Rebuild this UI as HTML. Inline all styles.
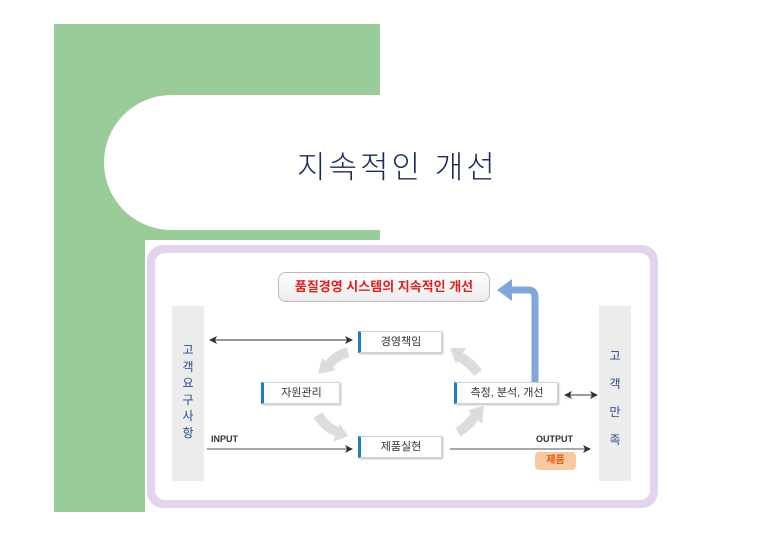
<!DOCTYPE html>
<html><head><meta charset="utf-8"><style>
body{margin:0;width:760px;height:537px;background:#fff;overflow:hidden;position:relative;font-family:"Liberation Sans","Noto Sans CJK KR",sans-serif}
.a{position:absolute}
.node{position:absolute;background:#fff;border:1px solid #c9d6dc;border-left:3px solid #1b7fc0;box-shadow:1px 1px 2px #bbb;font-size:11px;color:#333;text-align:center;line-height:20px;box-sizing:border-box;height:22px}
.bar{position:absolute;background:#ececec;width:32px;top:306px;height:175px;color:#2b4a8a;font-size:12px;text-align:center;box-sizing:border-box}
</style></head><body>
<div class="a" style="left:54px;top:24px;width:326px;height:216px;background:#99cc99"></div>
<div class="a" style="left:54px;top:240px;width:91px;height:272px;background:#99cc99"></div>
<div class="a" style="left:104px;top:95px;width:290px;height:135px;background:#fff;border-radius:68px 0 0 68px"></div>
<div class="a" style="left:297px;top:142px;font-size:31px;color:#1a2a5a;letter-spacing:3px;white-space:nowrap;font-weight:300">지속적인 개선</div>
<div class="a" style="left:145px;top:240px;width:515px;height:270px;background:#fff"></div>
<div class="a" style="left:147px;top:245px;width:511px;height:263px;background:#e3d4ee;border-radius:16px"></div>
<div class="a" style="left:155px;top:253px;width:495px;height:247px;background:#fff;border-radius:10px"></div>
<div class="a" style="left:278px;top:272px;width:212px;height:30px;border:1px solid #bbb;border-radius:8px;background:linear-gradient(#fff,#ececec);box-sizing:border-box;text-align:center;line-height:28px;font-size:13px;font-weight:bold;color:#e02020">품질경영 시스템의 지속적인 개선</div>
<div class="bar" style="left:172px;padding-top:36px;line-height:16.5px">고<br>객<br>요<br>구<br>사<br>항</div>
<div class="bar" style="left:599px;padding-top:36px;line-height:28px">고<br>객<br>만<br>족</div>
<svg class="a" style="left:0;top:0" width="760" height="537">
<defs><marker id="m" markerWidth="8" markerHeight="8" refX="7" refY="4" orient="auto"><path d="M0,0 L8,4 L0,8 L2,4z" fill="#333"/></marker>
<marker id="ms" markerWidth="8" markerHeight="8" refX="1" refY="4" orient="auto"><path d="M8,0 L0,4 L8,8 L6,4z" fill="#333"/></marker></defs>
<path d="M535,382 L535,297 Q535,290 528,290 L510,290" fill="none" stroke="#7fa8d8" stroke-width="7"/>
<path d="M497,290 L512,279 L512,301z" fill="#7fa8d8"/>
<line x1="210" y1="340" x2="352" y2="340" stroke="#333" marker-end="url(#m)" marker-start="url(#ms)"/>
<line x1="207" y1="449" x2="352" y2="449" stroke="#555" marker-end="url(#m)"/>
<line x1="450" y1="449" x2="590" y2="449" stroke="#555" marker-end="url(#m)"/>
<line x1="565" y1="395" x2="597" y2="395" stroke="#333" marker-end="url(#m)" marker-start="url(#ms)"/>
<g fill="none" stroke="#dcdcdc" stroke-width="10">
<path d="M348,352 Q335,356 328,366"/><path d="M318,415 Q326,428 338,432"/>
<path d="M458,432 Q470,425 476,414"/><path d="M478,373 Q470,362 458,356"/></g>
<g fill="#dcdcdc">
<path d="M318,374 L322,358 L336,370z"/><path d="M348,436 L333,442 L340,424z"/>
<path d="M484,406 L468,410 L482,424z"/><path d="M450,348 L466,348 L456,364z"/></g>
</svg>
<div class="node" style="left:358px;top:331px;width:84px">경영책임</div>
<div class="node" style="left:261px;top:382px;width:79px">자원관리</div>
<div class="node" style="left:454px;top:382px;width:104px">측정, 분석, 개선</div>
<div class="node" style="left:358px;top:436px;width:84px">제품실현</div>
<div class="a" style="left:211px;top:434px;font-size:9px;font-weight:bold;color:#333">INPUT</div>
<div class="a" style="left:536px;top:434px;font-size:9px;font-weight:bold;color:#333">OUTPUT</div>
<div class="a" style="left:535px;top:452px;width:41px;height:18px;background:#f8c8a0;border-radius:4px;text-align:center;line-height:18px;font-size:10px;font-weight:bold;color:#e85a10">제품</div>
</body></html>
